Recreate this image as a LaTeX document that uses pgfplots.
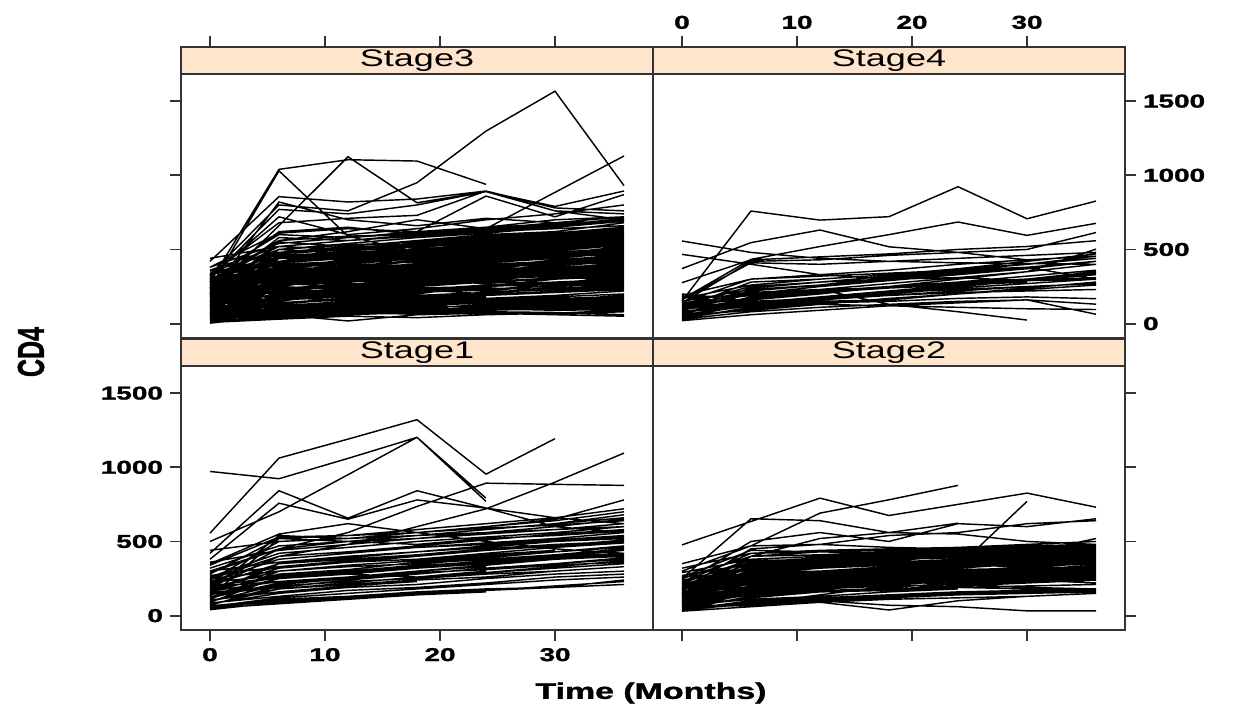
\documentclass[border=0pt]{standalone}
\usepackage{pgfplots}
\pgfplotsset{compat=1.18}
\usepackage{fontspec}
\setmainfont{Liberation Sans}
\newfontfamily\heavy{Liberation Sans}[BoldFeatures={FakeBold=1.3}]
\usepackage{graphicx}
\definecolor{stripcol}{HTML}{FFE5CC}
\definecolor{frame}{HTML}{333333}
\newcommand{\wide}[1]{\scalebox{1.5}[1]{#1}}
\newcommand{\strip}[1]{%
  \fill[stripcol] (axis cs:-2.52,1683) rectangle (axis cs:38.52,1865);
  \draw[line width=0.9pt, frame] (axis cs:-2.52,1683) -- (axis cs:38.52,1683);
  \node at (axis cs:18,1772) {\wide{\fontsize{12pt}{14pt}\selectfont #1}};}
\pgfplotsset{
  panel/.style={scale only axis, width=236pt, height=145.5pt,
    xmin=-2.52, xmax=38.52, ymin=-97, ymax=1865,
    xtick={0,10,20,30}, ytick={0,500,1000,1500},
    tick align=outside, major tick length=5.5pt,
    axis line style={line width=0.9pt, frame},
    tick style={line width=0.9pt, frame},
    axis on top, empty line=jump, anchor=south west,
    ticklabel style={font=\heavy\bfseries\fontsize{9.3pt}{11pt}\selectfont},
    xticklabels={\wide{0},\wide{10},\wide{20},\wide{30}},
    yticklabels={\wide{0},\wide{500},\wide{1000},\wide{1500}}},
  spag/.style={black, line width=0.72pt, mark=none},
}
\begin{document}
\begin{tikzpicture}
\useasboundingbox (0,0) rectangle (621pt,356.5pt);
% ---------------- Stage3 (top left)
\begin{axis}[panel, at={(90.5pt,187.5pt)},
  xtick pos=right, xticklabels={}, ytick pos=left, yticklabels={}]
\strip{Stage3}
\addplot[spag] coordinates {
(0,330)(6,800)(12,760)(18,950)(24,1298)(30,1567)(36,930)

(0,210)(6,660)(12,1125)(18,815)(24,890)(30,760)(36,700)

(0,280)(6,1040)(12,1105)(18,1096)(24,939)

(0,240)(6,1030)(12,590)(18,480)(24,520)(30,560)(36,600)

(0,420)(6,856)(12,820)(18,840)(24,894)(30,760)(36,740)

(0,300)(6,770)(12,740)(18,800)(24,890)(30,790)(36,894)

(0,260)(6,560)(12,620)(18,700)(24,640)(30,885)(36,1130)

(0,40)(6,60)(12,18)(18,60)(24,70)(30,65)(36,80)

(0,330)(6,680)(12,710)(18,730)(24,894)(30,780)(36,760)

(0,440)(6,520)(12,560)(18,600)(24,650)(30,700)(36,720)

(0,380)(6,610)(12,640)(18,620)(24,860)(30,720)(36,870)

(0,200)(6,820)(12,700)(18,660)(24,710)(30,680)(36,690)

(0,310)(6,720)(12,600)(18,640)(24,700)(30,740)(36,800)

(0,5)(6,70)(12,95)(18,120)(24,110)(30,105)(36,100)

(0,15)(6,120)(12,140)(18,160)(24,150)(30,170)(36,180)

(0,25)(6,180)(12,150)(18,220)(24,240)(30,230)(36,260)

(0,35)(6,95)(12,130)(18,140)(24,170)(30,160)(36,190)

(0,45)(6,240)(12,260)(18,250)(24,300)(30,320)(36,310)

(0,55)(6,150)(12,210)(18,230)(24,220)(30,260)(36,280)

(0,65)(6,300)(12,280)(18,330)(24,350)(30,380)(36,400)

(0,75)(6,130)(12,170)(18,200)(24,260)(30,250)(36,290)

(0,85)(6,210)(12,230)(18,290)(24,270)(30,310)(36,340)

(0,95)(6,350)(12,330)(18,360)(24,400)(30,420)(36,410)

(0,105)(6,180)(12,240)(18,210)(24,250)(30,300)(36,330)

(0,115)(6,260)(12,300)(18,320)(24,370)(30,350)(36,390)

(0,125)(6,400)(12,380)(18,420)(24,450)(30,470)(36,500)

(0,135)(6,220)(12,280)(18,300)(24,340)(30,380)(36,360)

(0,145)(6,290)(12,260)(18,310)(24,330)(30,360)(36,420)

(0,155)(6,330)(12,370)(18,400)(24,380)(30,430)(36,460)

(0,165)(6,190)(12,230)(18,270)(24,300)(30,320)(36,350)

(0,175)(6,360)(12,420)(18,410)(24,460)(30,500)(36,540)

(0,185)(6,250)(12,310)(18,350)(24,390)(30,410)(36,450)

(0,195)(6,440)(12,430)(18,470)(24,520)(30,500)(36,560)

(0,205)(6,300)(12,330)(18,380)(24,360)(30,420)(36,470)

(0,215)(6,380)(12,400)(18,440)(24,480)(30,530)(36,580)

(0,225)(6,270)(12,290)(18,320)(24,350)(30,400)(36,430)

(0,235)(6,460)(12,480)(18,500)(24,540)(30,560)(36,600)

(0,245)(6,340)(12,390)(18,420)(24,470)(30,510)(36,520)

(0,255)(6,410)(12,450)(18,490)(24,520)(30,580)(36,620)

(0,265)(6,310)(12,360)(18,400)(24,440)(30,470)(36,500)

(0,275)(6,480)(12,520)(18,510)(24,560)(30,600)(36,650)

(0,285)(6,370)(12,410)(18,460)(24,500)(30,540)(36,580)

(0,295)(6,520)(12,500)(18,560)(24,600)(30,620)(36,680)

(0,305)(6,420)(12,460)(18,480)(24,530)(30,570)(36,610)

(0,315)(6,350)(12,380)(18,430)(24,470)(30,520)(36,560)

(0,325)(6,500)(12,540)(18,580)(24,610)(30,650)(36,700)

(0,12)(6,40)(12,60)(18,80)(24,70)(30,60)(36,50)

(0,22)(6,80)(12,100)(18,90)(24,110)(30,120)(36,130)

(0,32)(6,60)(12,80)(18,100)(24,130)(30,150)(36,170)

(0,42)(6,110)(12,100)(18,130)(24,150)(30,140)(36,160)

(0,52)(6,90)(12,120)(18,150)(24,140)(30,180)(36,200)

(0,62)(6,170)(12,190)(18,180)(24,210)(30,230)(36,250)

(0,72)(6,120)(12,140)(18,170)(24,190)(30,210)(36,230)

(0,82)(6,230)(12,260)(18,280)(24,290)(30,330)(36,360)

(0,92)(6,160)(12,180)(18,220)(24,240)(30,230)(36,270)

(0,102)(6,270)(12,250)(18,290)(24,320)(30,340)(36,380)

(0,112)(6,140)(12,160)(18,190)(24,210)(30,240)(36,250)

(0,122)(6,310)(12,340)(18,330)(24,360)(30,390)(36,440)

(0,132)(6,200)(12,220)(18,260)(24,280)(30,270)(36,320)

(0,142)(6,370)(12,350)(18,390)(24,420)(30,460)(36,490)

(0,152)(6,230)(12,270)(18,250)(24,300)(30,330)(36,370)

(0,162)(6,280)(12,320)(18,350)(24,340)(30,370)(36,410)

(0,172)(6,210)(12,260)(18,290)(24,320)(30,350)(36,380)

(0,182)(6,420)(12,460)(18,440)(24,500)(30,520)(36,560)

(0,192)(6,270)(12,300)(18,340)(24,380)(30,400)(36,420)

(0,202)(6,350)(12,380)(18,400)(24,450)(30,470)(36,520)

(0,212)(6,230)(12,260)(18,300)(24,330)(30,360)(36,390)

(0,222)(6,450)(12,440)(18,490)(24,510)(30,550)(36,590)

(0,232)(6,320)(12,360)(18,380)(24,410)(30,460)(36,490)

(0,242)(6,380)(12,430)(18,450)(24,490)(30,520)(36,550)

(0,252)(6,290)(12,330)(18,360)(24,400)(30,420)(36,460)

(0,262)(6,500)(12,530)(18,550)(24,580)(30,610)(36,640)

(0,272)(6,400)(12,420)(18,460)(24,500)(30,530)(36,570)

(0,282)(6,340)(12,380)(18,420)(24,450)(30,490)(36,530)

(0,292)(6,450)(12,490)(18,520)(24,540)(30,580)(36,620)

(0,302)(6,380)(12,420)(18,450)(24,490)(30,530)(36,600)

(0,18)(6,50)(12,70)

(0,28)(6,100)(12,130)(18,150)

(0,38)(6,130)(12,110)(18,160)(24,180)

(0,48)(6,70)(12,90)(18,110)(24,120)(30,140)(36,130)

(0,58)(6,190)(12,220)

(0,68)(6,250)(12,230)(18,270)(24,290)

(0,78)(6,100)(12,120)(18,140)(24,160)(30,180)(36,200)

(0,88)(6,140)(12,160)(18,150)(24,170)(30,190)(36,220)

(0,98)(6,320)(12,300)(18,340)

(0,108)(6,170)(12,200)(18,230)(24,260)

(0,118)(6,200)(12,230)(18,260)(24,280)(30,300)(36,320)

(0,128)(6,280)(12,310)(18,290)(24,330)

(0,138)(6,170)(12,190)(18,220)(24,250)(30,270)(36,290)

(0,148)(6,340)(12,380)(18,400)(24,420)(30,440)

(0,158)(6,230)(12,250)(18,280)(24,310)(30,340)

(0,168)(6,260)(12,290)(18,330)(24,360)

(0,178)(6,330)(12,360)(18,390)(24,420)(30,450)(36,470)

(0,188)(6,220)(12,250)(18,280)(24,320)(30,340)(36,370)

(0,198)(6,390)(12,410)(18,450)(24,480)

(0,208)(6,280)(12,320)(18,350)(24,390)(30,420)(36,450)

(0,218)(6,330)(12,350)(18,390)(24,420)(30,460)(36,480)

(0,228)(6,420)(12,470)(18,500)

(0,238)(6,360)(12,390)(18,420)(24,460)(30,480)(36,510)

(0,248)(6,300)(12,340)(18,370)(24,410)(30,440)(36,480)

(0,258)(6,450)(12,470)(18,490)(24,530)(30,560)(36,590)

(0,268)(6,380)(12,410)(18,440)(24,480)(30,510)(36,540)

(0,278)(6,330)(12,360)(18,390)(24,430)(30,460)(36,490)

(0,288)(6,560)(12,590)(18,600)(24,620)(30,640)(36,660)

(0,298)(6,470)(12,500)(18,530)(24,560)(30,590)(36,630)

(0,308)(6,410)(12,440)(18,480)(24,510)(30,550)(36,580)

(0,320)(6,600)(12,580)(18,620)(24,650)(30,670)(36,700)

(0,340)(6,450)(12,490)(18,520)(24,560)(30,600)(36,640)

(0,360)(6,520)(12,560)(18,590)(24,620)(30,650)(36,690)

(0,380)(6,540)(12,580)(18,610)(24,640)(30,660)(36,710)

(0,8)(6,30)(12,50)(18,40)(24,60)(30,70)(36,90)

(0,16)(6,45)(12,60)(18,75)(24,90)(30,100)(36,110)

(0,26)(6,75)(12,90)(18,105)(24,95)(30,110)(36,120)

(0,36)(6,85)(12,110)(18,120)(24,140)(30,130)(36,150)

(0,46)(6,60)(12,75)(18,85)(24,100)(30,90)(36,95)

(0,150)(6,120)(12,110)(18,130)(24,160)(30,180)(36,200)

(0,200)(6,180)(12,210)(18,230)(24,200)(30,250)(36,270)

(0,100)(6,80)(12,120)(18,150)(24,170)(30,160)(36,190)

(0,250)(6,220)(12,260)(18,300)(24,330)(30,310)(36,350)

(0,60)(6,40)(12,70)(18,90)(24,110)(30,130)(36,120)

(0,300)(6,280)(12,320)(18,350)(24,380)(30,400)(36,430)

(0,280)(6,620)(12,650)(18,600)(24,640)(30,680)(36,720)

(0,230)(6,580)(12,560)(18,600)(24,630)(30,660)(36,690)

(0,190)(6,550)(12,520)(18,560)(24,590)(30,610)(36,650)

(0,150)(6,500)(12,470)(18,520)(24,550)(30,580)(36,610)

(0,120)(6,470)(12,440)(18,480)(24,520)(30,540)(36,570)

(0,3)(6,55)(12,70)(18,65)(24,80)(30,75)(36,60)

(0,14)(6,90)(12,115)(18,130)(24,145)(30,160)(36,175)

(0,24)(6,140)(12,170)(18,190)(24,200)(30,215)(36,240)

(0,34)(6,200)(12,240)(18,270)(24,290)(30,300)(36,330)

(0,44)(6,260)(12,300)(18,330)(24,360)(30,390)(36,420)

(0,54)(6,330)(12,360)(18,390)(24,420)(30,450)(36,480)

(0,64)(6,390)(12,410)(18,440)(24,470)(30,500)(36,540)

(0,74)(6,440)(12,460)(18,490)(24,520)(30,550)(36,590)

(0,84)(6,230)(12,210)(18,250)(24,280)(30,310)(36,300)

(0,94)(6,280)(12,350)(18,370)(24,390)(30,410)(36,440)

(0,164)(6,120)(12,150)(18,180)(24,190)(30,220)(36,240)

(0,184)(6,160)(12,180)(18,210)(24,230)(30,260)(36,280)

(0,214)(6,170)(12,200)(18,240)(24,250)(30,270)(36,300)

(0,244)(6,260)(12,280)(18,310)(24,340)(30,370)(36,400)

(0,274)(6,300)(12,310)(18,340)(24,370)(30,410)(36,440)

(0,334)(6,400)(12,420)(18,460)(24,510)(30,550)(36,590)

(0,354)(6,480)(12,510)(18,540)(24,570)(30,600)(36,640)

(0,6)(6,110)(12,140)(18,120)(24,140)(30,130)(36,140)

(0,20)(6,160)(12,200)(18,220)(24,260)(30,280)(36,300)
};
\end{axis}
% ---------------- Stage4 (top right)
\begin{axis}[panel, at={(326.5pt,187.5pt)},
  xtick pos=right, xticklabel pos=right, ytick pos=right, yticklabel pos=right]
\strip{Stage4}
\addplot[spag] coordinates {
(0,152)(6,759)(12,698)(18,721)(24,923)(30,707)(36,826)

(0,165)(6,433)(12,520)(18,600)(24,685)(30,595)(36,676)

(0,557)(6,480)(12,440)(18,420)(24,410)(30,405)(36,400)

(0,467)(6,400)(12,330)(18,300)(24,310)(30,290)(36,298)

(0,371)(6,546)(12,631)(18,518)(24,480)(30,430)(36,455)

(0,276)(6,430)(12,450)(18,470)(24,500)(30,520)(36,559)

(0,140)(6,420)(12,430)(18,460)(24,480)(30,500)(36,614)

(0,100)(6,200)(12,230)(18,130)(24,80)(30,24)

(0,20)(6,60)(12,90)(18,120)(24,140)(30,160)(36,63)

(0,30)(6,80)(12,110)(18,130)(24,150)(30,160)(36,131)

(0,40)(6,100)(12,140)(18,150)(24,170)(30,180)(36,168)

(0,50)(6,150)(12,170)(18,190)(24,210)(30,220)(36,230)

(0,60)(6,120)(12,160)(18,200)(24,240)(30,270)(36,300)

(0,70)(6,180)(12,220)(18,250)(24,280)(30,300)(36,340)

(0,80)(6,140)(12,180)(18,220)(24,260)(30,300)(36,350)

(0,90)(6,200)(12,250)(18,290)(24,330)(30,370)(36,420)

(0,100)(6,160)(12,200)(18,250)(24,300)(30,350)(36,400)

(0,110)(6,220)(12,260)(18,310)(24,360)(30,400)(36,455)

(0,120)(6,170)(12,210)(18,240)(24,280)(30,320)(36,360)

(0,130)(6,250)(12,280)(18,300)(24,350)(30,380)(36,420)

(0,140)(6,190)(12,230)(18,270)(24,310)(30,350)(36,502)

(0,150)(6,230)(12,260)(18,300)(24,340)(30,380)

(0,160)(6,410)(12,400)(18,420)(24,440)(30,460)(36,480)

(0,170)(6,260)(12,300)(18,330)

(0,180)(6,190)(12,210)(18,240)(24,270)

(0,190)(6,300)(12,320)(18,340)(24,360)(30,380)(36,300)

(0,35)(6,110)(12,150)(18,160)(24,200)(30,230)(36,260)

(0,45)(6,130)(12,170)(18,210)(24,250)(30,290)(36,330)

(0,55)(6,90)(12,130)(18,170)(24,200)(30,240)(36,280)

(0,65)(6,170)(12,210)(18,240)(24,270)(30,290)(36,310)

(0,75)(6,130)(12,160)(18,190)(24,220)(30,250)

(0,85)(6,240)(12,280)(18,320)(24,370)(30,420)(36,470)

(0,95)(6,150)(12,170)(18,210)(24,230)(30,250)(36,270)

(0,105)(6,280)(12,300)(18,330)(24,370)(30,400)(36,440)

(0,125)(6,210)(12,230)(18,240)(24,260)(30,280)

(0,145)(6,300)(12,330)(18,360)(24,400)(30,430)

(0,200)(6,150)(12,130)(18,120)(24,110)(30,100)(36,95)
};
\end{axis}
% ---------------- Stage1 (bottom left)
\begin{axis}[panel, at={(90.5pt,41.5pt)},
  xtick pos=left, ytick pos=left]
\strip{Stage1}
\addplot[spag] coordinates {
(0,556)(6,1062)(12,1190)(18,1321)(24,954)(30,1193)

(0,972)(6,923)(12,1060)(18,1202)(24,792)

(0,500)(6,700)(12,950)(18,1202)(24,770)

(0,420)(6,842)(12,657)(18,842)(24,725)(30,660)(36,620)

(0,380)(6,758)(12,650)(18,780)(24,725)(30,600)(36,560)

(0,300)(6,450)(12,560)(18,736)(24,893)(30,885)(36,878)

(0,250)(6,400)(12,480)(18,600)(24,720)(30,900)(36,1096)

(0,350)(6,550)(12,620)(18,560)(24,500)(30,450)(36,420)

(0,50)(6,80)(12,110)(18,140)(24,170)(30,200)(36,230)

(0,60)(6,120)(12,150)(18,180)(24,210)(30,240)(36,260)

(0,70)(6,200)(12,230)(18,250)(24,290)(30,320)(36,350)

(0,80)(6,150)(12,190)(18,210)(24,250)(30,280)(36,300)

(0,90)(6,260)(12,300)(18,320)(24,360)(30,400)(36,420)

(0,100)(6,180)(12,220)(18,260)(24,290)(30,330)(36,370)

(0,110)(6,300)(12,330)(18,350)(24,380)(30,410)(36,450)

(0,120)(6,220)(12,260)(18,300)(24,340)(30,380)(36,400)

(0,130)(6,520)(12,500)(18,540)(24,560)(30,580)(36,600)

(0,140)(6,250)(12,300)(18,330)(24,370)(30,400)(36,440)

(0,150)(6,350)(12,380)(18,410)(24,450)(30,480)(36,500)

(0,160)(6,280)(12,310)(18,360)(24,390)(30,430)(36,470)

(0,170)(6,540)(12,520)(18,560)(24,590)(30,610)(36,640)

(0,180)(6,320)(12,360)(18,380)(24,420)(30,460)(36,490)

(0,190)(6,400)(12,430)(18,460)(24,490)(30,520)(36,560)

(0,200)(6,260)(12,290)(18,330)(24,350)(30,380)(36,400)

(0,210)(6,450)(12,500)(18,520)(24,550)(30,580)(36,620)

(0,220)(6,330)(12,370)(18,400)(24,440)(30,470)(36,510)

(0,230)(6,380)(12,420)(18,460)(24,480)(30,510)(36,540)

(0,240)(6,500)(12,520)(18,540)(24,580)(30,620)(36,680)

(0,250)(6,300)(12,340)(18,370)(24,400)(30,430)(36,460)

(0,260)(6,420)(12,460)(18,500)(24,530)(30,560)(36,600)

(0,280)(6,520)(12,540)(18,560)(24,600)(30,640)(36,700)

(0,300)(6,360)(12,400)(18,430)(24,470)(30,500)(36,530)

(0,320)(6,470)(12,500)(18,540)(24,580)(30,620)(36,660)

(0,340)(6,530)(12,540)(18,580)(24,620)(30,660)(36,720)

(0,360)(6,440)(12,480)(18,520)(24,560)(30,600)(36,650)

(0,440)(6,500)(12,520)(18,560)(24,600)(30,650)(36,780)

(0,65)(6,110)(12,130)(18,160)(24,180)(30,190)(36,210)

(0,85)(6,130)(12,170)(18,190)(24,220)(30,260)(36,280)

(0,105)(6,160)(12,200)(18,230)

(0,125)(6,250)(12,280)(18,260)(24,300)

(0,145)(6,190)(12,240)(18,280)(24,320)(30,350)(36,380)

(0,165)(6,230)(12,260)(18,300)(24,330)

(0,185)(6,300)(12,340)(18,370)(24,410)(30,440)

(0,205)(6,350)(12,390)(18,430)(24,460)(30,500)(36,520)

(0,225)(6,270)(12,300)(18,340)(24,360)(30,390)(36,420)

(0,245)(6,400)(12,430)(18,470)(24,510)(30,550)(36,580)

(0,270)(6,330)(12,360)(18,400)(24,440)(30,470)(36,500)

(0,75)(6,180)(12,210)(18,240)(24,260)(30,300)(36,330)

(0,95)(6,210)(12,250)(18,280)(24,320)(30,350)(36,390)

(0,155)(6,200)(12,230)(18,250)(24,280)(30,300)(36,330)

(0,175)(6,260)(12,280)(18,320)(24,350)(30,380)(36,410)

(0,195)(6,230)(12,260)(18,290)(24,310)(30,340)(36,360)

(0,290)(6,450)(12,500)(18,480)(24,520)(30,540)(36,570)

(0,55)(6,100)(12,130)(18,150)(24,170)(30,190)(36,240)

(0,40)(6,90)(12,120)(18,140)(24,160)
};
\end{axis}
% ---------------- Stage2 (bottom right)
\begin{axis}[panel, at={(326.5pt,41.5pt)},
  xtick pos=left, xticklabels={}, ytick pos=right, yticklabels={}]
\strip{Stage2}
\addplot[spag] coordinates {
(0,477)(6,635)(12,792)(18,675)(24,750)(30,826)(36,731)

(0,300)(6,470)(12,691)(18,781)(24,878)

(0,250)(6,653)(12,640)(18,560)(24,550)(30,500)(36,480)

(0,100)(6,200)(12,250)(18,280)(24,330)(30,770)

(0,150)(6,400)(12,520)(18,560)(24,623)

(0,220)(6,500)(12,560)(18,500)(24,620)(30,600)(36,653)

(0,180)(6,450)(12,480)(18,540)(24,560)(30,620)(36,640)

(0,120)(6,300)(12,350)(18,370)(24,400)(30,420)(36,520)

(0,60)(6,80)(12,100)(18,70)(24,60)(30,32)(36,32)

(0,80)(6,110)(12,90)(18,38)(24,100)(30,130)(36,150)

(0,30)(6,60)(12,90)(18,110)(24,120)(30,130)(36,150)

(0,40)(6,100)(12,120)(18,140)(24,160)(30,170)(36,180)

(0,50)(6,150)(12,180)(18,200)(24,210)(30,230)(36,250)

(0,60)(6,120)(12,160)(18,190)(24,220)(30,240)(36,260)

(0,70)(6,200)(12,230)(18,250)(24,270)(30,300)(36,320)

(0,80)(6,170)(12,200)(18,240)(24,260)(30,280)(36,300)

(0,90)(6,250)(12,280)(18,300)(24,320)(30,350)(36,370)

(0,100)(6,180)(12,230)(18,260)(24,290)(30,310)(36,340)

(0,110)(6,280)(12,320)(18,340)(24,360)(30,380)(36,400)

(0,120)(6,220)(12,260)(18,280)(24,300)(30,330)(36,350)

(0,130)(6,310)(12,350)(18,380)(24,400)(30,420)(36,440)

(0,140)(6,260)(12,290)(18,320)(24,340)(30,360)(36,380)

(0,150)(6,330)(12,360)(18,390)(24,410)(30,430)(36,450)

(0,160)(6,240)(12,280)(18,300)(24,320)(30,350)(36,370)

(0,170)(6,360)(12,390)(18,410)(24,430)(30,440)(36,460)

(0,180)(6,300)(12,330)(18,350)(24,370)(30,390)(36,410)

(0,190)(6,380)(12,400)(18,420)(24,440)(30,450)(36,470)

(0,200)(6,280)(12,320)(18,340)(24,360)(30,380)(36,420)

(0,210)(6,330)(12,370)(18,400)(24,420)(30,430)(36,440)

(0,230)(6,360)(12,380)(18,400)(24,420)(30,440)(36,450)

(0,250)(6,400)(12,410)(18,430)(24,450)(30,460)(36,470)

(0,270)(6,350)(12,380)(18,420)(24,440)(30,450)(36,460)

(0,35)(6,90)(12,110)(18,130)(24,150)(30,160)(36,170)

(0,45)(6,130)(12,160)(18,170)(24,190)(30,200)(36,210)

(0,55)(6,70)(12,100)(18,120)(24,140)(30,150)(36,160)

(0,65)(6,180)(12,210)(18,230)(24,250)(30,270)(36,290)

(0,75)(6,140)(12,170)(18,180)(24,200)(30,220)(36,240)

(0,85)(6,220)(12,250)(18,270)(24,290)(30,310)(36,330)

(0,95)(6,160)(12,190)(18,210)(24,230)(30,250)(36,270)

(0,105)(6,260)(12,290)(18,310)(24,330)(30,350)(36,360)

(0,115)(6,200)(12,240)(18,250)(24,270)(30,290)(36,310)

(0,125)(6,290)(12,330)(18,350)(24,370)(30,380)(36,390)

(0,135)(6,230)(12,270)(18,290)(24,310)(30,320)(36,330)

(0,145)(6,340)(12,370)(18,380)(24,390)(30,400)(36,410)

(0,155)(6,280)(12,300)(18,330)(24,350)(30,370)(36,390)

(0,165)(6,210)(12,240)(18,270)(24,290)(30,300)(36,310)

(0,175)(6,320)(12,340)(18,360)(24,380)(30,400)(36,420)

(0,185)(6,250)(12,280)(18,310)(24,330)(30,340)(36,360)

(0,195)(6,350)(12,370)(18,390)(24,400)(30,410)(36,430)

(0,205)(6,290)(12,300)(18,320)(24,340)(30,360)(36,380)

(0,225)(6,420)(12,440)(18,450)(24,460)(30,470)(36,480)

(0,240)(6,310)(12,340)(18,360)(24,380)(30,400)(36,420)

(0,260)(6,440)(12,430)(18,420)(24,430)(30,440)(36,450)

(0,290)(6,380)(12,400)(18,410)(24,420)(30,430)(36,440)

(0,320)(6,420)(12,430)(18,440)(24,450)

(0,350)(6,470)(12,480)(18,460)(24,450)(30,440)(36,430)

(0,38)(6,80)(12,140)(18,200)(24,260)(30,320)(36,380)

(0,48)(6,200)(12,220)(18,210)(24,190)(30,180)(36,170)

(0,58)(6,240)(12,260)(18,280)

(0,68)(6,110)(12,130)(18,160)(24,180)

(0,78)(6,300)(12,320)(18,340)(24,360)(30,380)

(0,88)(6,150)(12,180)(18,200)

(0,98)(6,340)(12,360)(18,350)(24,340)(30,330)(36,320)

(0,108)(6,190)(12,210)(18,240)(24,260)(30,280)(36,290)

(0,118)(6,270)(12,300)(18,280)(24,260)(30,240)(36,220)

(0,128)(6,170)(12,200)(18,220)(24,240)(30,260)(36,280)

(0,138)(6,370)(12,380)(18,400)(24,420)

(0,148)(6,220)(12,250)(18,270)(24,300)(30,310)(36,320)

(0,158)(6,300)(12,320)(18,340)(24,330)(30,350)(36,370)

(0,168)(6,190)(12,220)(18,250)(24,280)(30,310)(36,340)

(0,178)(6,270)(12,250)(18,230)(24,210)(30,190)(36,180)

(0,188)(6,330)(12,350)(18,370)(24,360)(30,380)(36,400)

(0,198)(6,240)(12,260)(18,280)(24,300)(30,320)(36,330)

(0,218)(6,380)(12,400)(18,420)(24,410)(30,400)(36,390)

(0,130)(6,400)(12,430)(18,440)(24,460)(30,480)(36,500)

(0,100)(6,350)(12,390)(18,410)(24,430)(30,450)(36,470)
};
\end{axis}
% axis titles
\node at (325.5pt,10pt) {\wide{\heavy\bfseries\fontsize{11.3pt}{13pt}\selectfont Time (Months)}};
\node at (15.5pt,180.5pt) {\scalebox{1.5}[1]{\rotatebox{90}{\heavy\bfseries\fontsize{12.5pt}{14pt}\selectfont CD4}}};
\end{tikzpicture}
\end{document}
